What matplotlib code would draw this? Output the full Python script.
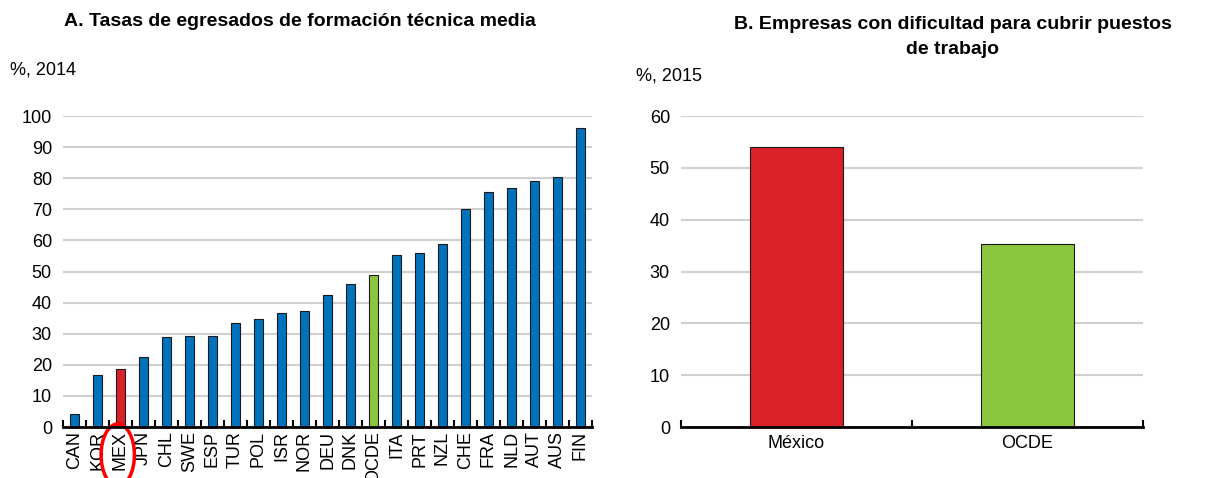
import matplotlib.pyplot as plt
from matplotlib.patches import Ellipse
from matplotlib.transforms import blended_transform_factory

# Datos panel A
paises = ['CAN', 'KOR', 'MEX', 'JPN', 'CHL', 'SWE', 'ESP', 'TUR', 'POL', 'ISR', 'NOR', 'DEU',
          'DNK', 'OCDE', 'ITA', 'PRT', 'NZL', 'CHE', 'FRA', 'NLD', 'AUT', 'AUS', 'FIN']
tasas = [4.1, 16.6, 18.5, 22.6, 28.8, 29.1, 29.4, 33.6, 34.7, 36.8, 37.4, 42.6,
         46.1, 49.0, 55.2, 56.1, 59.0, 70.0, 75.6, 77.0, 79.0, 80.5, 96.1]

# Datos panel B
grupos = ['México', 'OCDE']
empresas = [54.0, 35.4]

AZUL = '#0072BC'
ROJO = '#DA2128'
VERDE = '#8CC63F'
GRIS = '#D0D0D0'

plt.rcParams['font.family'] = ['Liberation Sans', 'DejaVu Sans']

fig = plt.figure(figsize=(12.1, 4.78), dpi=100)
W, H = 1210, 478

def ejes(x0, y0, x1, y1):
    return fig.add_axes([x0 / W, 1 - y1 / H, (x1 - x0) / W, (y1 - y0) / H])

def estilo(ax):
    for s in ['top', 'right', 'left']:
        ax.spines[s].set_visible(False)
    ax.spines['bottom'].set_linewidth(2)
    ax.spines['bottom'].set_color('black')
    ax.yaxis.grid(True, color=GRIS, linewidth=1.5)
    ax.set_axisbelow(True)
    ax.tick_params(axis='y', length=0, labelsize=13, pad=8)

# Panel A
ax1 = ejes(63, 116, 592, 427)
col1 = [ROJO if p == 'MEX' else VERDE if p == 'OCDE' else AZUL for p in paises]
x1 = range(len(paises))
ax1.bar(x1, tasas, width=0.42, color=col1, edgecolor='#1a1a1a', linewidth=0.8)
ax1.set_xlim(-0.5, len(paises) - 0.5)
ax1.set_ylim(0, 100)
ax1.set_yticks(range(0, 101, 10))
estilo(ax1)
ax1.set_xticks(list(x1))
ax1.set_xticklabels(paises, rotation=90, fontsize=13)
ax1.tick_params(axis='x', length=0, pad=3)
ax1.set_xticks([i - 0.5 for i in range(len(paises) + 1)], minor=True)
ax1.tick_params(axis='x', which='minor', direction='in', length=5, width=1.5, color='black')

# circulo rojo alrededor de MEX
tr = blended_transform_factory(ax1.transData, ax1.transAxes)
ax1.add_patch(Ellipse((1.88, -0.09), 1.45, 0.2, transform=tr, fill=False,
                      edgecolor='#FF0000', linewidth=2.5, clip_on=False))

fig.text(300 / W, 1 - 22 / H, 'A. Tasas de egresados de formación técnica media',
         ha='center', va='center', fontsize=14, fontweight='bold')
fig.text(10 / W, 1 - 70 / H, '%, 2014', ha='left', va='center', fontsize=13)

# Panel B
ax2 = ejes(681, 116, 1143, 427)
ax2.bar(range(len(grupos)), empresas, width=0.4, color=[ROJO, VERDE],
        edgecolor='#1a1a1a', linewidth=0.8)
ax2.set_xlim(-0.5, len(grupos) - 0.5)
ax2.set_ylim(0, 60)
ax2.set_yticks(range(0, 61, 10))
estilo(ax2)
ax2.set_xticks(range(len(grupos)))
ax2.set_xticklabels(grupos, fontsize=13)
ax2.tick_params(axis='x', length=0, pad=6)
ax2.set_xticks([i - 0.5 for i in range(len(grupos) + 1)], minor=True)
ax2.tick_params(axis='x', which='minor', direction='in', length=5, width=1.5, color='black')

fig.text(953 / W, 1 - 37 / H, 'B. Empresas con dificultad para cubrir puestos\nde trabajo',
         ha='center', va='center', fontsize=14, fontweight='bold', linespacing=1.6)
fig.text(636 / W, 1 - 76 / H, '%, 2015', ha='left', va='center', fontsize=13)

fig.savefig('out.png', dpi=100)
